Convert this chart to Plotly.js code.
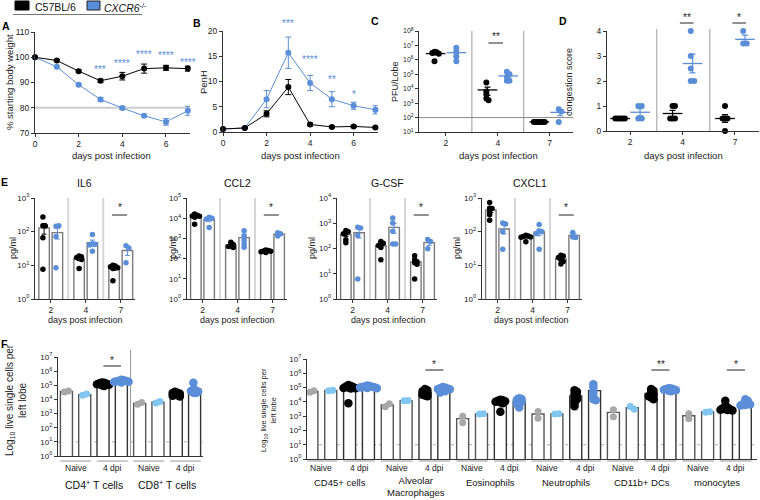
<!DOCTYPE html>
<html><head><meta charset="utf-8">
<script src="https://cdn.plot.ly/plotly-3.0.1.min.js"></script>
<style>html,body{margin:0;padding:0;background:#fff}#chart{width:760px;height:500px}</style>
</head><body><div id="chart"></div>
<script>
// ================= DATA =================
const days = [0, 1, 2, 3, 4, 5, 6, 7];
const weightWT = [100, 98.7, 94.5, 90.7, 92.5, 95.5, 95.8, 95.5];
const weightWTErr = [0, 0.4, 0.4, 0.6, 1.5, 1.8, 1.0, 1.0];
const weightKO = [100, 96.2, 89.1, 83.3, 79.9, 76.8, 74.4, 78.8];
const weightKOErr = [0, 0.4, 0.5, 0.8, 0.6, 0.4, 1.3, 1.8];
const weightStars = ['', '', '', '***', '****', '****', '****', '****'];

const penhWT = [0.6, 0.8, 3.6, 8.9, 1.5, 1.0, 1.1, 0.9];
const penhWTErr = [0.1, 0.1, 0.6, 1.5, 0.3, 0.2, 0.2, 0.2];
const penhKO = [0.6, 0.8, 6.5, 15.7, 9.7, 6.5, 5.2, 4.4];
const penhKOErr = [0.1, 0.1, 1.7, 3.1, 1.5, 1.5, 0.7, 0.8];
const penhStars = ['', '', '', '***', '****', '**', '*', ''];

const dpiLabels = ['2', '4', '7'];
const pfuWT = [[3.7e6, 3.4e6, 3.0e6, 2.7e6, 0.8e6], [2.7e4, 6.3e3, 4.2e3, 2.1e3, 1.6e3], [50, 50, 50, 50, 50, 50]];
const pfuKO = [[7.0e6, 3.2e6, 1.7e6, 0.8e6], [1.5e5, 1.0e5, 6.5e4, 3.5e4, 3.5e4], [380, 260, 50]];
const pfuLOD = 100;
const pfuStars = ['', '**', ''];

const congWT = [[0.5, 0.5, 0.5, 0.5, 0.5], [1, 1, 0.5, 0.5, 0.5], [1, 0.5, 0.5, 0.5, 0]];
const congKO = [[1, 1, 0.5, 0.5], [4, 3, 2.5, 2, 2], [4, 3.5, 3.5]];
const congStars = ['', '**', '*'];

const cytoNames = ['IL6', 'CCL2', 'G-CSF', 'CXCL1'];
const cytoMaxExp = [3, 5, 4, 3];
const il6WT = [[275, 150, 148, 66, 7.6], [19, 18, 17, 16, 15, 8], [10, 9.5, 9, 8.5, 8, 3.5]];
const il6KO = [[145, 150, 72, 8.5], [82, 44, 42, 40, 26], [38, 33, 12]];
const ccl2WT = [[16000, 14000, 13000, 12500, 11000, 5000], [650, 500, 420, 400, 350], [270, 250, 240, 230, 220, 200]];
const ccl2KO = [[11000, 10000, 9000, 3500], [2400, 1370, 830, 530, 360], [1900, 1700, 1300]];
const gcsfWT = [[520, 460, 400, 380, 220, 170], [190, 160, 150, 130, 110, 36], [52, 36, 30, 27, 24, 6.2]];
const gcsfKO = [[690, 650, 330, 6.2], [1620, 1020, 480, 150, 150], [225, 190, 98]];
const cxcl1WT = [[730, 500, 485, 385, 320, 220], [78, 74, 72, 70, 68, 50], [20, 19, 17, 15, 13, 11]];
const cxcl1KO = [[180, 170, 100, 30], [164, 104, 99, 88, 30], [95, 70, 67]];
const cytoStars = ['*', '*', '*', '*'];

const fSubLabels = ['Naive', '4 dpi'];
const fLeftGroups = ['CD4<sup>+</sup> T cells', 'CD8<sup>+</sup> T cells'];
const fLeftNaiveWT = [[33000, 40000], [4500, 6000]];
const fLeftNaiveKO = [[20000, 24000], [5500, 7000]];
const fLeftDpiWT = [[160000, 150000, 140000, 130000, 120000, 110000, 100000, 90000], [35000, 30000, 28000, 25000, 22000, 20000, 18000, 16000]];
const fLeftDpiKO = [[250000, 230000, 210000, 200000, 190000, 180000, 170000, 160000], [150000, 50000, 45000, 40000, 35000, 30000, 28000]];
const fLeftStars = ['*', ''];

const fRightGroups = ['CD45+ cells', 'Alveolar<br>Macrophages', 'Eosinophils', 'Neutrophils', 'CD11b+ DCs', 'monocytes'];
const fRightNaiveWT = [[48000, 60000], [4500, 7500], [1000, 350], [2100, 700], [2800, 900], [1500, 650]];
const fRightNaiveKO = [[60000, 65000], [12000, 12500], [1400, 1500], [1400, 1500], [4800, 3000], [1900, 2000]];
const fRightDpiWT = [
  [150000, 130000, 120000, 110000, 100000, 95000, 90000, 85000, 8000],
  [80000, 65000, 55000, 45000, 38000, 32000, 28000, 25000],
  [14000, 13000, 12000, 11000, 10000, 9500, 8000, 2000],
  [65000, 50000, 35000, 25000, 20000, 15000, 12000, 8000, 5000],
  [80000, 60000, 45000, 35000, 30000, 25000, 20000, 15000],
  [12000, 5000, 4000, 3500, 3000, 3000, 2800, 2700, 2500]];
const fRightDpiKO = [
  [140000, 130000, 120000, 115000, 110000, 105000, 100000, 95000, 90000],
  [110000, 100000, 90000, 85000, 80000, 75000, 65000, 55000, 45000],
  [18000, 16000, 14000, 12000, 10000, 8000, 7000, 4000],
  [170000, 100000, 45000, 25000, 15000, 13000],
  [90000, 85000, 80000, 75000, 70000, 65000, 60000, 55000],
  [15000, 12000, 9000, 8000, 7000, 6500, 6000, 5500]];
const fRightStars = ['', '*', '', '', '**', '*'];
const fLimit = 10;

// ================= STYLE / LAYOUT =================
const W = 760, H = 500;
const BLACK = '#000000', BLUE = '#5b8ed8', LBLUE = '#80c6f0', GRAY = '#a8a8a8';
const FONT = 'Liberation Sans, Arial, sans-serif';
const px2x = p => p / W, px2y = p => 1 - p / H;
const xdom = (a, b) => [a / W, b / W];
const ydom = (t, b) => [1 - b / H, 1 - t / H];
const xr = n => n === 1 ? 'x' : 'x' + n;
const yr = n => n === 1 ? 'y' : 'y' + n;
const mean = a => a.reduce((s, v) => s + v, 0) / a.length;
const sem = a => { if (a.length < 2) return 0; const m = mean(a); return Math.sqrt(a.reduce((s, v) => s + (v - m) * (v - m), 0) / (a.length - 1) / a.length); };
const sup = e => '10<sup>' + e + '</sup>';
const range = n => Array.from({length: n}, (_, i) => i);

const axBase = {showgrid: false, zeroline: false, showline: true, linecolor: '#333', linewidth: 1,
  ticks: 'outside', ticklen: 3, tickwidth: 1, tickcolor: '#333', tickfont: {size: 8.5, color: '#222', family: FONT}, fixedrange: true};

const layout = {width: W, height: H, margin: {l: 0, r: 0, t: 0, b: 0}, paper_bgcolor: '#fff', plot_bgcolor: 'rgba(0,0,0,0)',
  showlegend: false, barmode: 'overlay', font: {family: FONT, size: 9, color: '#222'}, shapes: [], annotations: []};
const traces = [];

function addAxes(n, xd, yd, xo, yo) {
  layout[n === 1 ? 'xaxis' : 'xaxis' + n] = Object.assign({}, axBase, {domain: xdom(xd[0], xd[1]), anchor: yr(n)}, xo);
  layout[n === 1 ? 'yaxis' : 'yaxis' + n] = Object.assign({}, axBase, {domain: ydom(yd[0], yd[1]), anchor: xr(n)}, yo);
}
function ann(text, x, y, o) {
  layout.annotations.push(Object.assign({text, x: px2x(x), y: px2y(y), xref: 'paper', yref: 'paper', showarrow: false,
    xanchor: 'center', yanchor: 'middle', font: {size: 9.5, color: '#222', family: FONT}}, o || {}));
}
function annX(n, text, x, ypx, o) {
  layout.annotations.push(Object.assign({text, x, y: px2y(ypx), xref: xr(n), yref: 'paper', showarrow: false,
    xanchor: 'center', yanchor: 'middle', font: {size: 9.5, color: '#222', family: FONT}}, o || {}));
}
function lineX(n, x0, x1, y0px, y1px, color, width, dash) {
  layout.shapes.push({type: 'line', xref: xr(n), yref: 'paper', x0, x1, y0: px2y(y0px), y1: px2y(y1px),
    line: {color, width, dash: dash || 'solid'}, layer: 'below'});
}
// deterministic beeswarm: nearest free horizontal slot, then centred on the column
function swarmOffsets(vals, toPx, minD, step) {
  const placed = [], out = [];
  vals.forEach(v => {
    const y = toPx(v);
    let k = 0, off = 0;
    while (k < 80) {
      off = k === 0 ? 0 : (k % 2 ? 1 : -1) * Math.ceil(k / 2) * step;
      if (placed.every(p => Math.hypot(p[0] - off, p[1] - y) >= minD)) break;
      k++;
    }
    placed.push([off, y]); out.push(off);
  });
  const shift = (Math.max(...out) + Math.min(...out)) / 2;
  return out.map(o => o - shift);
}
function logPx(lo, hi, h) { return v => (Math.log10(v) - lo) / (hi - lo) * h; }
function linPx(lo, hi, h) { return v => (v - lo) / (hi - lo) * h; }
function addPoints(n, groups, centers, offset, color, size, toPx, ppu, minD, step) {
  const xs = [], ys = [];
  groups.forEach((vals, g) => {
    const offs = swarmOffsets(vals, toPx, minD, step);
    vals.forEach((v, i) => { xs.push(centers[g] + offset + offs[i] / ppu); ys.push(v); });
  });
  traces.push({type: 'scatter', mode: 'markers', x: xs, y: ys, xaxis: xr(n), yaxis: yr(n), cliponaxis: false,
    marker: {color, size, line: {width: 0}}, hoverinfo: 'skip'});
}
function addMean(n, groups, centers, offset, color) {
  traces.push({type: 'scatter', mode: 'markers', x: centers.map(c => c + offset), y: groups.map(mean), xaxis: xr(n), yaxis: yr(n),
    cliponaxis: false, marker: {symbol: 'line-ew-open', size: 14, color, line: {color, width: 1.3}},
    error_y: {type: 'data', array: groups.map(sem), color, thickness: 1.2, width: 3}, hoverinfo: 'skip'});
}
function addBars(n, groups, centers, offset, bw, outline, errColor) {
  traces.push({type: 'bar', x: centers.map(c => c + offset), y: groups.map(mean), width: bw, xaxis: xr(n), yaxis: yr(n),
    marker: {color: '#ffffff', line: {color: outline, width: 1.4}},
    error_y: {type: 'data', array: groups.map(sem), color: errColor, thickness: 1, width: 2.5}, hoverinfo: 'skip'});
}

// ---------- legend ----------
layout.shapes.push({type: 'rect', xref: 'paper', yref: 'paper', x0: px2x(15), x1: px2x(29), y0: px2y(10), y1: px2y(1), fillcolor: BLACK, line: {color: '#000', width: 1}});
layout.shapes.push({type: 'rect', xref: 'paper', yref: 'paper', x0: px2x(87), x1: px2x(100), y0: px2y(10), y1: px2y(1), fillcolor: BLUE, line: {color: '#222', width: 1}});
layout.shapes.push({type: 'line', xref: 'paper', yref: 'paper', x0: px2x(13), x1: px2x(142), y0: px2y(14.5), y1: px2y(14.5), line: {color: '#777', width: 1}});
ann('C57BL/6', 33, 6.5, {xanchor: 'left', font: {size: 10.5, color: '#111', family: FONT}});
ann('<i>CXCR6</i><sup>-/-</sup>', 102, 7, {xanchor: 'left', font: {size: 10.5, color: '#111', family: FONT}});

// panel letters
[['A', 6, 26], ['B', 197, 23], ['C', 375, 21], ['D', 563, 21], ['E', 4, 182], ['F', 4, 344]].forEach(p =>
  ann('<b>' + p[0] + '</b>', p[1], p[2], {font: {size: 10.5, color: '#000', family: FONT}}));

// ---------- A ----------
addAxes(1, [35, 190], [32, 133], {range: [0, 7.1], tickvals: [0, 2, 4, 6]}, {range: [70, 110], tickvals: [70, 80, 90, 100, 110]});
layout.shapes.push({type: 'line', xref: 'x', yref: 'y', x0: 0, x1: 7.1, y0: 80, y1: 80, line: {color: '#cccccc', width: 2}, layer: 'below'});
traces.push({type: 'scatter', mode: 'lines+markers', x: days, y: weightKO, xaxis: 'x', yaxis: 'y', cliponaxis: false,
  line: {color: BLUE, width: 1}, marker: {color: BLUE, size: 6}, error_y: {type: 'data', array: weightKOErr, color: BLUE, thickness: 1, width: 3}});
traces.push({type: 'scatter', mode: 'lines+markers', x: days, y: weightWT, xaxis: 'x', yaxis: 'y', cliponaxis: false,
  line: {color: BLACK, width: 1}, marker: {color: BLACK, size: 6}, error_y: {type: 'data', array: weightWTErr, color: BLACK, thickness: 1, width: 3}});
const weightStarPx = [0, 0, 0, 69, 63, 55, 56, 62];
days.forEach((d, i) => { if (weightStars[i]) annX(1, weightStars[i], d, weightStarPx[i], {font: {size: 10, color: BLUE, family: FONT}}); });
ann('% starting body weight', 9, 82, {textangle: -90});
ann('days post infection', 112, 155);

// ---------- B ----------
addAxes(2, [223, 377.6], [31, 132], {range: [0, 7.1], tickvals: [0, 2, 4, 6]}, {range: [0, 20], tickvals: [0, 5, 10, 15, 20]});
traces.push({type: 'scatter', mode: 'lines+markers', x: days, y: penhKO, xaxis: 'x2', yaxis: 'y2', cliponaxis: false,
  line: {color: BLUE, width: 1}, marker: {color: BLUE, size: 6}, error_y: {type: 'data', array: penhKOErr, color: BLUE, thickness: 1, width: 3}});
traces.push({type: 'scatter', mode: 'lines+markers', x: days, y: penhWT, xaxis: 'x2', yaxis: 'y2', cliponaxis: false,
  line: {color: BLACK, width: 1}, marker: {color: BLACK, size: 6}, error_y: {type: 'data', array: penhWTErr, color: BLACK, thickness: 1, width: 3}});
const penhStarPx = [0, 0, 0, 23, 59, 79, 95, 0];
days.forEach((d, i) => { if (penhStars[i]) annX(2, penhStars[i], d, penhStarPx[i], {font: {size: 10, color: BLUE, family: FONT}}); });
ann('PenH', 203, 82, {textangle: -90});
ann('days post infection', 300, 155);

// ---------- C ----------
const c3 = [0, 1, 2];
addAxes(3, [419, 573], [31, 132], {range: [-0.52, 2.45], tickvals: c3, ticktext: dpiLabels},
  {type: 'log', range: [1, 8], tickvals: range(8).map(i => Math.pow(10, i + 1)), ticktext: range(8).map(i => sup(i + 1)), tickfont: {size: 7, color: '#222', family: FONT}});
[0.5, 1.5].forEach(s => lineX(3, s, s, 31, 132, '#9a9a9a', 1));
layout.shapes.push({type: 'line', xref: 'x3', yref: 'y3', x0: -0.52, x1: 2.45, y0: pfuLOD, y1: pfuLOD, line: {color: '#888', width: 1}, layer: 'below'});
addPoints(3, pfuWT, c3, -0.2, BLACK, 6, logPx(1, 8, 101), 52, 2.2, 2.2);
addPoints(3, pfuKO, c3, 0.2, BLUE, 6, logPx(1, 8, 101), 52, 2.6, 2.6);
addMean(3, pfuWT, c3, -0.2, BLACK);
addMean(3, pfuKO, c3, 0.2, BLUE);
c3.forEach(i => { if (pfuStars[i]) { lineX(3, i - 0.18, i + 0.1, 43, 43, '#222', 1); annX(3, pfuStars[i], i - 0.04, 37, {font: {size: 10, color: '#222', family: FONT}}); } });
ann('PFU/Lobe', 395, 82, {textangle: -90, font: {size: 9, color: '#222', family: FONT}});
ann('days post infection', 498, 155);

// ---------- D ----------
addAxes(4, [607, 758.6], [31, 131], {range: [-0.44, 2.45], tickvals: c3, ticktext: dpiLabels}, {range: [0, 4], tickvals: [0, 1, 2, 3, 4]});
[0.51, 1.52].forEach(s => lineX(4, s, s, 29, 131, '#9a9a9a', 1));
addPoints(4, congWT, c3, -0.19, BLACK, 6, linPx(0, 4, 100), 52.5, 2.4, 2.4);
addPoints(4, congKO, c3, 0.19, BLUE, 6, linPx(0, 4, 100), 52.5, 3.5, 3.5);
addMean(4, congWT, c3, -0.19, BLACK);
addMean(4, congKO, c3, 0.19, BLUE);
c3.forEach(i => { if (congStars[i]) { lineX(4, i - 0.05, i + 0.21, 23, 23, '#222', 1); annX(4, congStars[i], i + 0.08, 17, {font: {size: 10, color: '#222', family: FONT}}); } });
ann('congestion score', 569, 82, {textangle: -90, font: {size: 9, color: '#222', family: FONT}});
ann('days post infection', 683, 155);

// ---------- E ----------
const cytoWT = [il6WT, ccl2WT, gcsfWT, cxcl1WT];
const cytoKO = [il6KO, ccl2KO, gcsfKO, cxcl1KO];
const eTick2 = [50.75, 202.5, 352.5, 497.5];
const ePitch = 35;
const eTitleX = [84, 237, 387, 530];
const eYTitleX = [13, 173, 312, 457];
cytoNames.forEach((name, k) => {
  const n = 5 + k;
  const x0 = eTick2[k] - 0.45 * ePitch, x1 = eTick2[k] + 2.4 * ePitch;
  const mx = cytoMaxExp[k];
  addAxes(n, [x0, x1], [198, 299], {range: [-0.45, 2.4], tickvals: c3, ticktext: dpiLabels},
    {type: 'log', range: [0, mx], tickvals: range(mx + 1).map(i => Math.pow(10, i)), ticktext: range(mx + 1).map(i => sup(i)), tickfont: {size: 8, color: '#222', family: FONT}});
  [0.5, 1.5].forEach(s => lineX(n, s, s, 198, 299, '#d6d6d6', 2));
  addBars(n, cytoWT[k], c3, -0.19, 0.3, '#7a7a7a', BLACK);
  addBars(n, cytoKO[k], c3, 0.19, 0.3, '#7a7a7a', BLUE);
  addPoints(n, cytoWT[k], c3, -0.19, BLACK, 5.5, logPx(0, mx, 101), ePitch, 2.4, 2.4);
  addPoints(n, cytoKO[k], c3, 0.19, BLUE, 5.5, logPx(0, mx, 101), ePitch, 2.8, 2.8);
  if (cytoStars[k]) { lineX(n, 1.75, 2.18, 215, 215, '#222', 1); annX(n, cytoStars[k], 1.965, 208, {font: {size: 10, color: '#222', family: FONT}}); }
  ann(name, eTitleX[k], 183, {font: {size: 10.5, color: '#111', family: FONT}});
  ann('pg/ml', eYTitleX[k], 248, {textangle: -90, font: {size: 9, color: '#222', family: FONT}});
  ann('days post infection', eTitleX[k] + 1, 320, {font: {size: 9, color: '#222', family: FONT}});
});

// ---------- F ----------
const fOff = [-0.375, -0.125, 0.125, 0.375];
const fRanges = {9: [-0.49, 1.49], 10: [-0.44, 5.53]};
function fPanel(n, xd, yd, groups, nWT, nKO, dWT, dKO, stars, ppu, starPx, catFont, subY, catY) {
  const cs = range(groups.length);
  const h = yd[1] - yd[0];
  const rg = fRanges[n];
  addAxes(n, xd, yd, {range: rg, showticklabels: false, ticks: ''},
    {type: 'log', range: [0, 7], tickvals: range(8).map(i => Math.pow(10, i)), ticktext: range(8).map(i => sup(i)), tickfont: {size: 8, color: '#222', family: FONT}});
  layout.shapes.push({type: 'line', xref: xr(n), yref: yr(n), x0: rg[0], x1: rg[1], y0: fLimit, y1: fLimit, line: {color: '#b0b0b0', width: 1, dash: 'dot'}, layer: 'below'});
  const bw = 12 / ppu;
  addBars(n, nWT, cs, fOff[0], bw, '#555', GRAY);
  addBars(n, nKO, cs, fOff[1], bw, '#555', LBLUE);
  addBars(n, dWT, cs, fOff[2], bw, '#333', BLACK);
  addBars(n, dKO, cs, fOff[3], bw, '#333', BLUE);
  const tp = logPx(0, 7, h);
  addPoints(n, nWT, cs, fOff[0], GRAY, 7, tp, ppu, 4, 4);
  addPoints(n, nKO, cs, fOff[1], LBLUE, 7, tp, ppu, 4, 4);
  addPoints(n, dWT, cs, fOff[2], BLACK, 8.5, tp, ppu, 2.4, 2.4);
  addPoints(n, dKO, cs, fOff[3], BLUE, 8.5, tp, ppu, 2.4, 2.4);
  cs.forEach(g => {
    lineX(n, g - 0.46, g - 0.04, subY - 7, subY - 7, '#999', 1);
    lineX(n, g + 0.04, g + 0.46, subY - 7, subY - 7, '#999', 1);
    annX(n, fSubLabels[0], g - 0.25, subY, {font: {size: 8.5, color: '#222', family: FONT}});
    annX(n, fSubLabels[1], g + 0.25, subY, {font: {size: 8.5, color: '#222', family: FONT}});
    const twoLine = groups[g].indexOf('<br>') >= 0;
    annX(n, groups[g], g, twoLine ? catY + 4.5 : catY, {font: {size: catFont, color: '#111', family: FONT}});
    if (stars[g]) { lineX(n, g + 0.13, g + 0.37, starPx, starPx, '#222', 1); annX(n, stars[g], g + 0.25, starPx - 6, {font: {size: 10, color: '#222', family: FONT}}); }
  });
}
fPanel(9, [58, 203], [357, 456], fLeftGroups, fLeftNaiveWT, fLeftNaiveKO, fLeftDpiWT, fLeftDpiKO, fLeftStars, 73, 366, 10.5, 468, 484);
lineX(9, 0.5, 0.5, 350, 456, '#9a9a9a', 1);
fPanel(10, [307, 757], [359, 459], fRightGroups, fRightNaiveWT, fRightNaiveKO, fRightDpiWT, fRightDpiKO, fRightStars, 75.4, 370, 9.5, 468, 482);
ann('Log<sub>10</sub> live single cells per<br>left lobe', 16, 400, {textangle: -90, font: {size: 10, color: '#222', family: FONT}});
ann('Log<sub>10</sub> live single cells per<br>left lobe', 268, 410, {textangle: -90, font: {size: 7.5, color: '#222', family: FONT}});

Plotly.newPlot('chart', traces, layout, {staticPlot: true, displayModeBar: false});
</script>
</body></html>
